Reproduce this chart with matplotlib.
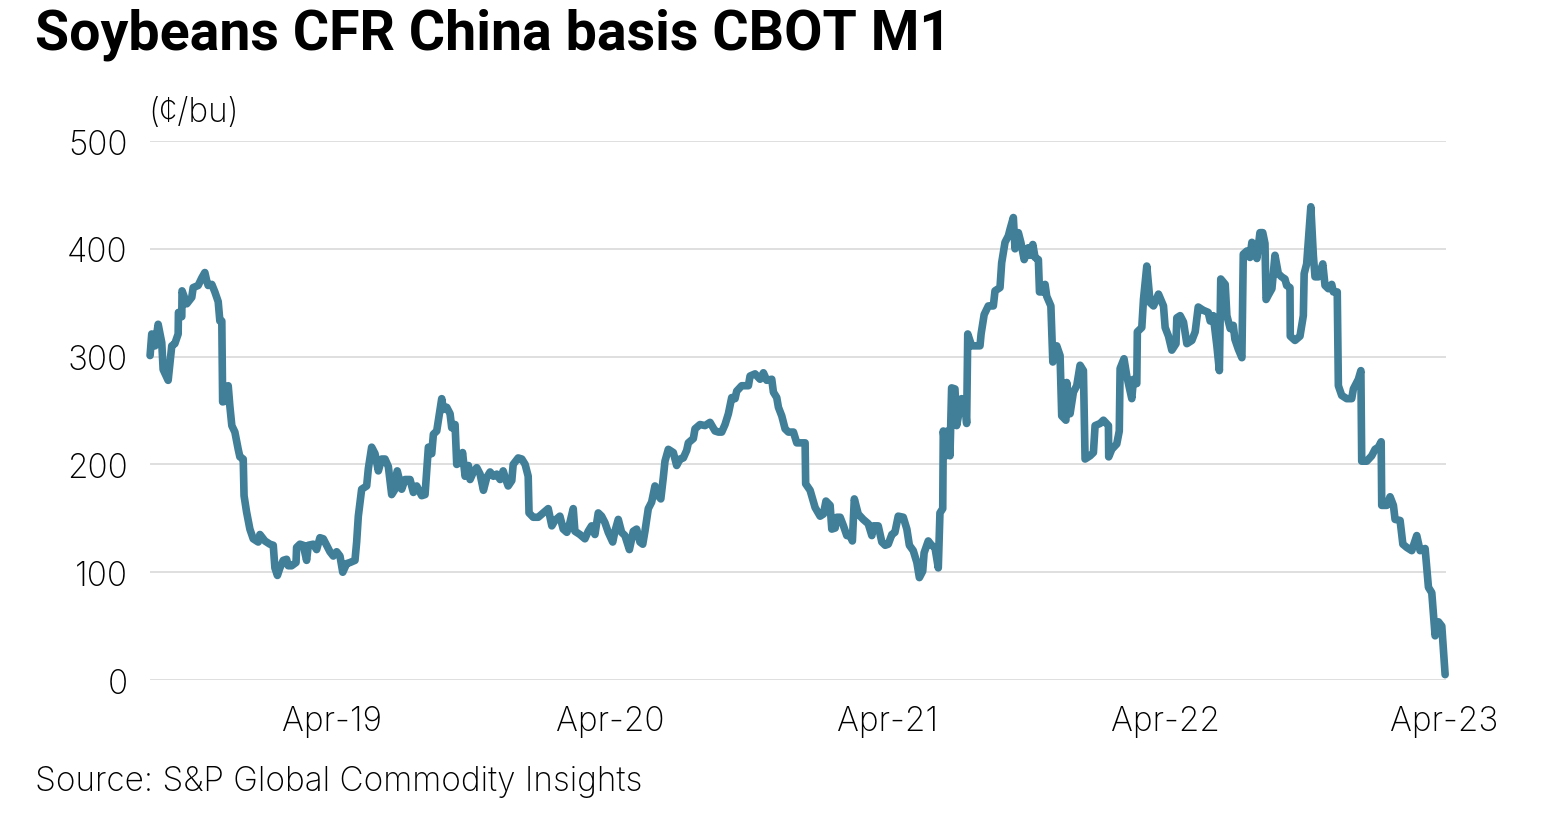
import numpy as np
import pandas as pd
import matplotlib
matplotlib.use("Agg")
import matplotlib.pyplot as plt

# Soybeans CFR China basis vs CBOT front month, cents/bushel
# dates are decimal years
t_2018 = [2018.593, 2018.599, 2018.611, 2018.622, 2018.635, 2018.640, 2018.658, 2018.671,
          2018.682, 2018.694, 2018.695, 2018.707, 2018.708, 2018.725, 2018.743, 2018.748,
          2018.766, 2018.779, 2018.790, 2018.797, 2018.802, 2018.815, 2018.826, 2018.838,
          2018.844, 2018.851, 2018.854, 2018.869, 2018.874, 2018.880, 2018.887, 2018.898,
          2018.910, 2018.916, 2018.928, 2018.931, 2018.940, 2018.952, 2018.964, 2018.982,
          2018.988]
v_2018 = [301, 321, 310, 330, 313, 288, 278, 310,
          312, 321, 341, 337, 361, 349, 355, 364,
          366, 373, 378, 370, 366, 367, 360, 351,
          333, 333, 258, 259, 273, 254, 236, 230,
          214, 207, 205, 171, 156, 140, 131, 128,
          135]

t_2019 = [2019.006, 2019.024, 2019.036, 2019.042, 2019.051, 2019.060, 2019.072, 2019.084,
          2019.090, 2019.102, 2019.118, 2019.120, 2019.132, 2019.144, 2019.156, 2019.162,
          2019.180, 2019.192, 2019.204, 2019.216, 2019.228, 2019.240, 2019.252, 2019.264,
          2019.276, 2019.286, 2019.300, 2019.312, 2019.330, 2019.336, 2019.342, 2019.354,
          2019.372, 2019.378, 2019.390, 2019.402, 2019.414, 2019.426, 2019.438, 2019.450,
          2019.462, 2019.474, 2019.482, 2019.498, 2019.510, 2019.528, 2019.540, 2019.552,
          2019.570, 2019.582, 2019.594, 2019.606, 2019.612, 2019.624, 2019.642, 2019.648,
          2019.660, 2019.672, 2019.678, 2019.690, 2019.696, 2019.708, 2019.717, 2019.726,
          2019.738, 2019.744, 2019.756, 2019.768, 2019.780, 2019.792, 2019.804, 2019.816,
          2019.828, 2019.840, 2019.852, 2019.863, 2019.870, 2019.881, 2019.894, 2019.899,
          2019.917, 2019.930, 2019.942, 2019.953, 2019.956, 2019.971, 2019.989]
v_2019 = [129, 126, 125, 104, 97, 104, 111, 112,
          106, 106, 109, 123, 126, 125, 111, 125,
          126, 121, 132, 131, 125, 119, 115, 119,
          115, 100, 108, 109, 111, 128, 152, 177,
          180, 196, 216, 210, 194, 205, 205, 198,
          172, 177, 194, 177, 186, 186, 174, 180,
          171, 172, 216, 210, 228, 231, 261, 251,
          253, 247, 234, 237, 200, 202, 211, 189,
          199, 186, 193, 197, 191, 176, 188, 193,
          189, 191, 186, 194, 188, 180, 185, 200,
          206, 205, 200, 189, 155, 151, 151]

t_2020 = [2020.007, 2020.025, 2020.038, 2020.049, 2020.067, 2020.079, 2020.092, 2020.103,
          2020.115, 2020.121, 2020.139, 2020.157, 2020.169, 2020.181, 2020.193, 2020.205,
          2020.217, 2020.229, 2020.241, 2020.257, 2020.265, 2020.277, 2020.289, 2020.301,
          2020.317, 2020.331, 2020.343, 2020.355, 2020.365, 2020.373, 2020.385, 2020.397,
          2020.409, 2020.421, 2020.430, 2020.439, 2020.445, 2020.457, 2020.475, 2020.487,
          2020.499, 2020.511, 2020.523, 2020.529, 2020.547, 2020.553, 2020.571, 2020.589,
          2020.607, 2020.625, 2020.637, 2020.649, 2020.661, 2020.673, 2020.685, 2020.697,
          2020.703, 2020.721, 2020.745, 2020.751, 2020.769, 2020.787, 2020.799, 2020.811,
          2020.829, 2020.835, 2020.847, 2020.853, 2020.865, 2020.877, 2020.889, 2020.907,
          2020.919, 2020.949, 2020.951, 2020.967, 2020.985]
v_2020 = [155, 159, 143, 148, 152, 140, 137, 146,
          159, 138, 135, 131, 138, 143, 135, 155,
          152, 146, 137, 128, 138, 149, 137, 134,
          121, 138, 140, 128, 126, 138, 159, 165,
          180, 171, 168, 188, 203, 214, 211, 199,
          205, 206, 213, 220, 224, 233, 237, 236,
          239, 231, 230, 230, 237, 247, 262, 261,
          268, 273, 273, 282, 284, 279, 285, 278,
          279, 267, 262, 253, 245, 233, 230, 230,
          220, 220, 182, 176, 160]

t_2021 = [2021.003, 2021.015, 2021.024, 2021.039, 2021.045, 2021.057, 2021.063, 2021.075,
          2021.087, 2021.099, 2021.111, 2021.119, 2021.126, 2021.140, 2021.158, 2021.176,
          2021.189, 2021.194, 2021.212, 2021.225, 2021.237, 2021.248, 2021.261, 2021.272,
          2021.284, 2021.302, 2021.315, 2021.324, 2021.338, 2021.351, 2021.360, 2021.372,
          2021.377, 2021.392, 2021.404, 2021.416, 2021.428, 2021.434, 2021.444, 2021.446,
          2021.456, 2021.461, 2021.470, 2021.476, 2021.488, 2021.494, 2021.512, 2021.524,
          2021.530, 2021.534, 2021.548, 2021.566, 2021.578, 2021.582, 2021.593, 2021.608,
          2021.626, 2021.632, 2021.650, 2021.656, 2021.668, 2021.680, 2021.686, 2021.698,
          2021.704, 2021.716, 2021.725, 2021.737, 2021.752, 2021.758, 2021.768, 2021.776,
          2021.788, 2021.792, 2021.806, 2021.812, 2021.818, 2021.833, 2021.840, 2021.854,
          2021.866, 2021.872, 2021.887, 2021.890, 2021.902, 2021.914, 2021.926, 2021.938,
          2021.950, 2021.956, 2021.974, 2021.986, 2021.992]
v_2021 = [152, 154, 166, 162, 140, 141, 151, 151,
          143, 134, 134, 129, 168, 154, 149, 145,
          134, 143, 143, 128, 125, 126, 135, 137,
          152, 151, 140, 125, 120, 109, 95, 101,
          118, 129, 125, 123, 104, 155, 159, 231,
          208, 231, 208, 271, 270, 236, 261, 258,
          238, 321, 310, 310, 310, 321, 339, 347,
          347, 361, 364, 387, 406, 412, 418, 429,
          400, 415, 406, 390, 401, 394, 404, 392,
          390, 360, 360, 367, 356, 347, 295, 310,
          301, 245, 241, 276, 247, 267, 273, 292,
          287, 205, 208, 211, 236]

t_2022 = [2022.010, 2022.022, 2022.040, 2022.041, 2022.052, 2022.070, 2022.079, 2022.082,
          2022.096, 2022.106, 2022.124, 2022.130, 2022.142, 2022.144, 2022.160, 2022.166,
          2022.178, 2022.190, 2022.202, 2022.220, 2022.238, 2022.244, 2022.256, 2022.268,
          2022.283, 2022.286, 2022.298, 2022.310, 2022.322, 2022.340, 2022.352, 2022.363,
          2022.381, 2022.399, 2022.406, 2022.417, 2022.430, 2022.439, 2022.444, 2022.460,
          2022.466, 2022.478, 2022.489, 2022.495, 2022.507, 2022.520, 2022.525, 2022.538,
          2022.549, 2022.556, 2022.567, 2022.574, 2022.585, 2022.595, 2022.603, 2022.607,
          2022.615, 2022.628, 2022.639, 2022.651, 2022.663, 2022.675, 2022.681, 2022.693,
          2022.694, 2022.711, 2022.729, 2022.741, 2022.744, 2022.753, 2022.768, 2022.777,
          2022.783, 2022.795, 2022.811, 2022.819, 2022.831, 2022.843, 2022.849, 2022.863,
          2022.867, 2022.879, 2022.897, 2022.915, 2022.921, 2022.939, 2022.948, 2022.951,
          2022.969, 2022.987, 2022.999]
v_2022 = [238, 241, 236, 207, 214, 219, 231, 289,
          298, 282, 261, 279, 275, 323, 327, 353,
          384, 350, 347, 358, 347, 327, 319, 306,
          312, 336, 338, 332, 312, 315, 323, 346,
          343, 341, 333, 338, 310, 287, 372, 367,
          338, 326, 329, 316, 307, 299, 395, 398,
          392, 406, 398, 391, 415, 415, 405, 353,
          357, 363, 394, 377, 374, 372, 366, 364,
          319, 315, 319, 338, 377, 386, 439, 394,
          374, 374, 386, 366, 363, 367, 360, 360,
          273, 264, 261, 261, 270, 279, 287, 203,
          203, 208, 214]

t_2023 = [2023.011, 2023.021, 2023.023, 2023.041, 2023.053, 2023.065, 2023.071, 2023.089,
          2023.099, 2023.113, 2023.131, 2023.149, 2023.161, 2023.179, 2023.191, 2023.203,
          2023.215, 2023.227, 2023.239, 2023.251]
v_2023 = [216, 221, 162, 162, 170, 162, 149, 148,
          126, 123, 120, 134, 120, 122, 86, 81,
          41, 54, 50, 5]

y_ticks = [0, 100, 200, 300, 400, 500]
x_tick_labels = ["Apr-19", "Apr-20", "Apr-21", "Apr-22", "Apr-23"]
x_tick_dates = ["2019-04-01", "2020-04-01", "2021-04-01", "2022-04-01", "2023-04-01"]


def to_dates(years):
    years = np.asarray(years)
    base = pd.to_datetime("2018-01-01")
    return base + pd.to_timedelta((years - 2018.0) * 365.25, unit="D")


t_all = np.concatenate([t_2018, t_2019, t_2020, t_2021, t_2022, t_2023])
v_all = np.concatenate([v_2018, v_2019, v_2020, v_2021, v_2022, v_2023])
dates = to_dates(t_all)

plt.rcParams["font.family"] = ["Roboto", "DejaVu Sans"]
light_font = ["Inter", "Open Sans", "DejaVu Sans"]

fig = plt.figure(figsize=(15.44, 8.28), dpi=100)
ax = fig.add_axes([0.0972, 0.1775, 0.8393, 0.651])

ax.plot(dates, v_all, color="#417f99", linewidth=5.5, solid_joinstyle="round",
        solid_capstyle="round", clip_on=False, zorder=3)

ax.set_ylim(0, 500)
ax.set_xlim(dates[0], to_dates([2023.254])[0])
ax.set_yticks(y_ticks)
ax.set_yticklabels([str(v) for v in y_ticks], fontsize=24, fontweight="light",
                   family=light_font)
ax.set_xticks(pd.to_datetime(x_tick_dates))
ax.set_xticklabels(x_tick_labels, fontsize=24, fontweight="light", family=light_font)
ax.tick_params(axis="both", length=0, colors="#000000")
ax.tick_params(axis="y", pad=16)
ax.tick_params(axis="x", pad=18)
ax.grid(axis="y", color="#d9d9d9", linewidth=1.2)
ax.set_axisbelow(True)
for s in ax.spines.values():
    s.set_visible(False)

fig.text(0.0227, 0.94, "Soybeans CFR China basis CBOT M1", fontsize=40,
         fontweight="bold", ha="left", va="baseline")
fig.text(0.0958, 0.853, "(\u00a2/bu)", fontsize=24, fontweight="light",
         family=light_font, ha="left", va="baseline")
fig.text(0.0227, 0.045, "Source: S&P Global Commodity Insights", fontsize=24,
         fontweight="light", family=light_font, ha="left", va="baseline")

fig.savefig("out.png", dpi=100)
